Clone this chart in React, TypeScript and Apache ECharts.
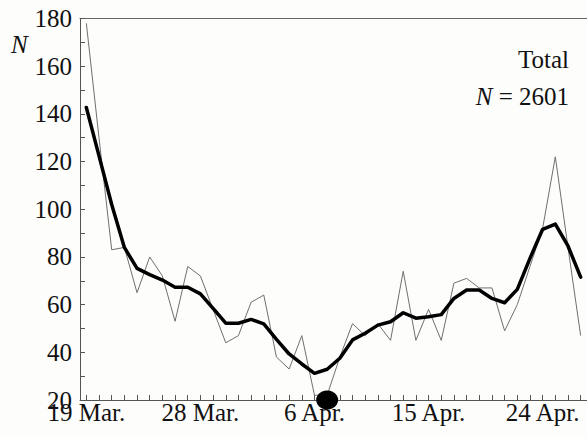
import React, { useEffect, useRef } from "react";
import * as echarts from "echarts";

const days = [
  "19 Mar.", "20 Mar.", "21 Mar.", "22 Mar.", "23 Mar.", "24 Mar.", "25 Mar.", "26 Mar.", "27 Mar.", "28 Mar.",
  "29 Mar.", "30 Mar.", "31 Mar.", "1 Apr.", "2 Apr.", "3 Apr.", "4 Apr.", "5 Apr.", "6 Apr.", "7 Apr.",
  "8 Apr.", "9 Apr.", "10 Apr.", "11 Apr.", "12 Apr.", "13 Apr.", "14 Apr.", "15 Apr.", "16 Apr.", "17 Apr.",
  "18 Apr.", "19 Apr.", "20 Apr.", "21 Apr.", "22 Apr.", "23 Apr.", "24 Apr.", "25 Apr.", "26 Apr.", "27 Apr.",
];

const daily = [
  178, 130, 83, 84, 65, 80, 72, 53, 76, 72,
  58, 44, 47, 61, 64, 38, 33, 47, 22, 22,
  38, 52, 47, 52, 45, 74, 45, 58, 45, 69,
  71, 67, 67, 49, 60, 76, 92, 122, 84, 47,
];

const smoothed = [
  142.7, 122.4, 102, 84, 75.2, 72.6, 70.3, 67.3, 67.3, 64.5,
  58.4, 52.2, 52.2, 53.8, 51.9, 45.4, 39.3, 35.1, 31.2, 32.9,
  37.5, 45.2, 48, 51.4, 52.8, 56.6, 54.3, 54.9, 55.8, 62.6,
  66.1, 66.1, 62.6, 60.8, 66.4, 79.4, 91.6, 93.8, 84.6, 71.5,
];

const labelledDays = ["19 Mar.", "28 Mar.", "6 Apr.", "15 Apr.", "24 Apr."];
const markerPoint = [["7 Apr.", 20]];
const yTickLabels = [20, 40, 60, 80, 100, 120, 140, 160, 180];

const FONT = "Times New Roman";

export default function App() {
  const ref = useRef<HTMLDivElement>(null);
  useEffect(() => {
    if (!ref.current) return;
    const chart = echarts.init(ref.current, null, { renderer: "svg" });
    chart.setOption({
      animation: false,
      backgroundColor: "#fdfdfc",
      textStyle: { fontFamily: FONT },
      grid: { left: 80, right: -6, top: 18.5, bottom: 37, containLabel: false },
      xAxis: [
        {
          type: "category",
          data: days,
          boundaryGap: true,
          axisLine: { show: true, lineStyle: { color: "#555", width: 1 } },
          axisTick: {
            show: true,
            inside: true,
            length: 5,
            alignWithLabel: true,
            interval: 0,
            lineStyle: { color: "#555" },
          },
          axisLabel: {
            interval: (_i: number, v: string) => labelledDays.includes(v),
            margin: 0,
            color: "#111",
            fontFamily: FONT,
            fontSize: 25,
          },
          splitLine: { show: false },
        },
        {
          type: "category",
          data: days,
          position: "top",
          boundaryGap: true,
          axisLine: { show: true, lineStyle: { color: "#666", width: 1 } },
          axisTick: { show: false },
          axisLabel: { show: false },
        },
      ],
      yAxis: {
        type: "value",
        min: 20,
        max: 180,
        interval: 10,
        axisLine: { show: true, lineStyle: { color: "#555", width: 1 } },
        axisTick: { show: true, inside: true, length: 5, lineStyle: { color: "#555" } },
        axisLabel: {
          formatter: (v: number) => (yTickLabels.includes(v) ? String(v) : ""),
          margin: 8,
          color: "#111",
          fontFamily: FONT,
          fontSize: 25,
        },
        splitLine: { show: false },
      },
      series: [
        {
          type: "line",
          data: daily,
          symbol: "none",
          lineStyle: { color: "#6f6f6f", width: 1 },
          z: 2,
        },
        {
          type: "line",
          data: smoothed,
          symbol: "none",
          lineStyle: { color: "#000", width: 3.5, join: "round", cap: "round" },
          z: 3,
        },
        {
          type: "scatter",
          data: markerPoint,
          symbol: "circle",
          symbolSize: [22, 19],
          itemStyle: { color: "#000", opacity: 1 },
          clip: false,
          z: 5,
        },
      ],
      graphic: [
        {
          type: "text",
          left: 11,
          top: 32,
          style: { text: "N", fontFamily: FONT, fontStyle: "italic", fontSize: 25, fill: "#111" },
        },
        {
          type: "text",
          right: 18,
          top: 47,
          style: { text: "Total", fontFamily: FONT, fontSize: 25, fill: "#111" },
        },
        {
          type: "text",
          right: 18,
          top: 84,
          style: {
            rich: {
              i: { fontFamily: FONT, fontStyle: "italic", fontSize: 25, fill: "#111" },
              n: { fontFamily: FONT, fontSize: 25, fill: "#111" },
            },
            text: "{i|N}{n| = 2601}",
            fontFamily: FONT,
            fontSize: 25,
          },
        },
      ],
    });
    return () => chart.dispose();
  }, []);
  return (
    <div
      ref={ref}
      style={{ position: "fixed", left: 0, top: 0, width: 587, height: 437 }}
    />
  );
}
